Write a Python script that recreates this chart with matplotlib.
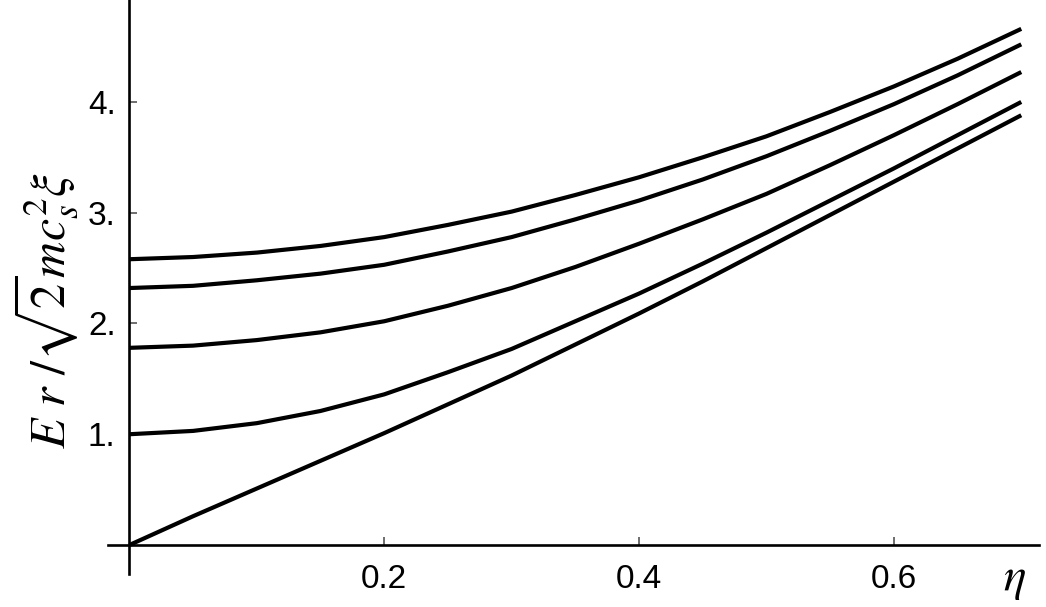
import matplotlib
matplotlib.use('Agg')
import matplotlib.pyplot as plt

eta = [0.0, 0.05, 0.1, 0.15, 0.2, 0.25, 0.3, 0.35, 0.4, 0.45, 0.5, 0.55, 0.6, 0.65, 0.7]

# energy branches, top to bottom
branch_1 = [2.58, 2.60, 2.64, 2.70, 2.78, 2.89, 3.01, 3.16, 3.32, 3.50, 3.69, 3.91, 4.14, 4.39, 4.66]
branch_2 = [2.32, 2.34, 2.39, 2.45, 2.53, 2.65, 2.78, 2.94, 3.11, 3.30, 3.51, 3.74, 3.98, 4.24, 4.52]
branch_3 = [1.78, 1.80, 1.85, 1.92, 2.02, 2.16, 2.32, 2.51, 2.72, 2.94, 3.17, 3.43, 3.70, 3.98, 4.27]
branch_4 = [1.00, 1.03, 1.10, 1.21, 1.36, 1.56, 1.77, 2.02, 2.27, 2.54, 2.82, 3.11, 3.40, 3.70, 4.00]
branch_5 = [0.00, 0.26, 0.51, 0.76, 1.01, 1.27, 1.53, 1.81, 2.09, 2.38, 2.68, 2.98, 3.28, 3.58, 3.88]

x_ticks = [0.2, 0.4, 0.6]
x_tick_labels = ['0.2', '0.4', '0.6']
y_ticks = [1, 2, 3, 4]
y_tick_labels = ['1.', '2.', '3.', '4.']

plt.rcParams['font.family'] = ['Liberation Sans', 'DejaVu Sans']
plt.rcParams['mathtext.fontset'] = 'stix'

fig = plt.figure(figsize=(10.46, 6.07), dpi=100)
ax = fig.add_axes([0.0994, 0.0529, 0.894, 0.947])

for b in [branch_1, branch_2, branch_3, branch_4, branch_5]:
    ax.plot(eta, b, color='black', lw=3.0, solid_capstyle='butt',
            solid_joinstyle='round', clip_on=False)

ax.set_xlim(-0.02, 0.714)
ax.set_ylim(-0.27, 4.92)

for s in ['top', 'right']:
    ax.spines[s].set_visible(False)
ax.spines['left'].set_position(('data', 0))
ax.spines['bottom'].set_position(('data', 0))
ax.spines['left'].set_bounds(-0.26, 4.92)
ax.spines['bottom'].set_bounds(-0.017, 0.714)
for s in ['left', 'bottom']:
    ax.spines[s].set_linewidth(1.9)
    ax.spines[s].set_color('black')

ax.set_xticks(x_ticks)
ax.set_xticklabels(x_tick_labels)
ax.set_yticks(y_ticks)
ax.set_yticklabels(y_tick_labels)
ax.tick_params(direction='in', length=6, width=1.2, color='#555555',
               labelsize=24)
ax.tick_params(axis='x', pad=14)
ax.tick_params(axis='y', pad=10)

ax.text(-0.066, 2.12, r'$E\ r\ /\sqrt{2}mc_s^2\xi$', rotation=90,
        fontsize=36, ha='center', va='center')
fig.text(0.970, 0.044, r'$\eta$', fontsize=34, ha='center', va='center')

fig.savefig('out.png', dpi=100)
